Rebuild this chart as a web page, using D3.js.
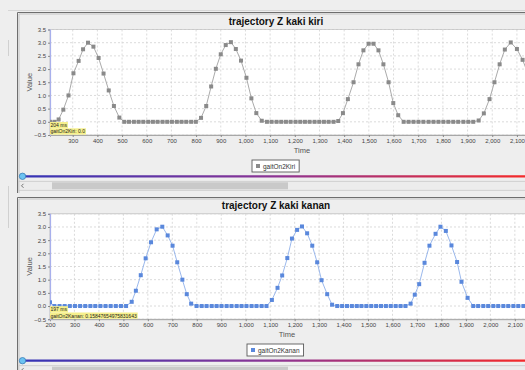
<!DOCTYPE html>
<html><head><meta charset="utf-8">
<script src="https://cdn.jsdelivr.net/npm/d3@7/dist/d3.min.js"></script>
<style>
html,body{margin:0;padding:0;background:#eeeeee;overflow:hidden;}
svg{display:block;font-family:"Liberation Sans",Arial,sans-serif;}
</style></head><body>
<svg id="c" width="525" height="370"></svg>
<script>
// ---- data ----
const topTitle = "trajectory Z kaki kiri";
const topSeries = "gaitOn2Kiri";
const topTime = [208,226,243,262,283,303,324,342,362,384,405,425,446,467,489,509,
  528,548,567,586,606,625,644,664,683,702,722,741,760,780,799,
  820,841,861,880,900,920,941,961,982,1004,1024,1044,1066,
  1087,1106,1126,1145,1164,1183,1203,1222,1241,1260,1280,1299,1318,1337,1357,1376,
  1395,1415,1438,1458,1478,1499,1519,1539,1559,1580,1599,1619,
  1641,1661,1681,1701,1721,1742,1762,1782,1802,1822,1842,1862,1883,1903,1923,
  1945,1966,1989,2009,2030,2051,2075,2100,2123,2146];
const topZ = [0,0,0.09,0.46,1.0,1.84,2.31,2.75,3.0,2.85,2.42,1.83,1.19,0.6,0.16,0,
  0,0,0,0,0,0,0,0,0,0,0,0,0,0,0,
  0.15,0.6,1.34,2.01,2.56,2.91,3.02,2.76,2.32,1.67,0.89,0.33,0.04,
  0,0,0,0,0,0,0,0,0,0,0,0,0,0,0,0.03,
  0.33,0.86,1.5,2.18,2.71,2.96,2.96,2.71,2.18,1.5,0.71,0.25,
  0,0,0,0,0,0,0,0,0,0,0,0,0,0,0,
  0.05,0.32,0.86,1.5,2.18,2.74,3.01,2.76,2.35,1.8];
const topXTicks = [300,400,500,600,700,800,900,1000,1100,1200,1300,1400,1500,1600,1700,1800,1900,2000,2100];
const topTip = ["204 ms", "gaitOn2Kiri: 0.0"];

const botTitle = "trajectory Z kaki kanan";
const botSeries = "gaitOn2Kanan";
const botTime = [200,218,239,260,281,302,323,344,365,385,406,427,448,469,490,511,
  534,551,571,591,613,636,659,681,701,720,741,759,777,799,
  820,840,861,881,901,922,942,963,983,1003,1024,1044,1065,1085,
  1107,1130,1149,1170,1189,1210,1230,1251,1272,1292,1310,1333,1353,
  1374,1394,1414,1434,1454,1473,1493,1513,1533,1553,1573,1593,1613,1633,1653,
  1674,1691,1709,1731,1751,1776,1796,1818,1841,1864,1882,1907,
  1930,1950,1971,1991,2012,2032,2053,2073,2094,2114,2135,2155];
const botZ = [0.14,0,0,0,0,0,0,0,0,0,0,0,0,0,0,0,
  0.16,0.58,1.17,1.81,2.42,2.91,3.01,2.68,2.29,1.66,1.0,0.45,0.09,0,
  0,0,0,0,0,0,0,0,0,0,0,0,0,0,
  0.23,0.69,1.16,1.82,2.56,2.89,3.02,2.76,2.29,1.66,0.98,0.45,0.05,
  0,0,0,0,0,0,0,0,0,0,0,0,0,0,0,
  0.09,0.43,0.83,1.64,2.29,2.74,3.01,2.85,2.3,1.67,0.92,0.31,
  0,0,0,0,0,0,0,0,0,0,0,0];
const botXTicks = [200,300,400,500,600,700,800,900,1000,1100,1200,1300,1400,1500,1600,1700,1800,1900,2000,2100];
const botTip = ["197 ms", "gaitOn2Kanan: 0.15847654975831643"];

const yTicks = [-0.5,0,0.5,1.0,1.5,2.0,2.5,3.0,3.5];
const yLabel = "Value";
const xLabel = "Time";

// ---- drawing ----
const svg = d3.select("#c");
const defs = svg.append("defs");
const grad = defs.append("linearGradient").attr("id","sl").attr("gradientUnits","userSpaceOnUse")
  .attr("x1",22).attr("x2",525).attr("y1",0).attr("y2",0);
grad.append("stop").attr("offset","0").attr("stop-color","#3434b6");
grad.append("stop").attr("offset","0.5").attr("stop-color","#8c3494");
grad.append("stop").attr("offset","1").attr("stop-color","#f42a2a");

// left splitter hints
svg.append("line").attr("x1",8.5).attr("x2",8.5).attr("y1",40).attr("y2",56).attr("stroke","#d0d0d0");
svg.append("line").attr("x1",8.5).attr("x2",8.5).attr("y1",186).attr("y2",228).attr("stroke","#d0d0d0");
svg.append("line").attr("x1",8).attr("x2",525).attr("y1",10.5).attr("y2",10.5).attr("stroke","#d6d6d6");

function drawChart(cfg){
  const g = svg.append("g");
  // panel border
  g.append("path").attr("d",`M17.5,${cfg.panelBottom} V${cfg.panelTop} H525`)
    .attr("fill","none").attr("stroke","#6e6e6e").attr("stroke-width",1);
  g.append("path").attr("d",`M19,${cfg.panelBottom} V${cfg.panelTop+1.5} H525`)
    .attr("fill","none").attr("stroke","#c4c4c4").attr("stroke-width",1);

  const x = d3.scaleLinear().domain(cfg.xDomain).range([cfg.left, cfg.right]);
  const y = d3.scaleLinear().domain([-0.5,3.5]).range([cfg.bottom, cfg.top]);

  // title
  g.append("text").attr("x",276).attr("y",cfg.titleY).attr("text-anchor","middle")
    .attr("font-size",10).attr("font-weight","bold").attr("fill","#111").text(cfg.title);

  // plot background
  g.append("rect").attr("x",cfg.left).attr("y",cfg.top).attr("width",cfg.right-cfg.left).attr("height",cfg.bottom-cfg.top)
    .attr("fill","#ffffff").attr("stroke","#bdbdbd").attr("stroke-width",0.8);

  // grid
  g.append("g").selectAll("line").data(cfg.xTicks).join("line")
    .attr("x1",d=>x(d)).attr("x2",d=>x(d)).attr("y1",cfg.top).attr("y2",cfg.bottom)
    .attr("stroke","#d2d2d2").attr("stroke-width",0.8).attr("stroke-dasharray","2,2");
  g.append("g").selectAll("line").data(yTicks).join("line")
    .attr("x1",cfg.left).attr("x2",cfg.right).attr("y1",d=>y(d)).attr("y2",d=>y(d))
    .attr("stroke","#d2d2d2").attr("stroke-width",0.8).attr("stroke-dasharray","2,2");

  // axes
  const ax = g.append("g").attr("transform",`translate(0,${cfg.bottom})`)
    .call(d3.axisBottom(x).tickValues(cfg.xTicks).tickFormat(d3.format(",")).tickSize(2).tickPadding(2));
  ax.select(".domain").attr("stroke","#9a9a9a").attr("stroke-width",0.8);
  ax.selectAll(".tick line").attr("stroke","#888");
  ax.selectAll("text").attr("font-size",6).attr("fill","#444").attr("font-family","Liberation Sans, Arial, sans-serif");

  const ay = g.append("g").attr("transform",`translate(${cfg.left},0)`)
    .call(d3.axisLeft(y).tickValues(yTicks).tickFormat(d3.format(".1f")).tickSize(2).tickPadding(2));
  ay.select(".domain").attr("stroke","#a8b0ec").attr("stroke-width",1.2);
  ay.selectAll(".tick line").attr("stroke","#888");
  ay.selectAll("text").attr("font-size",6).attr("fill","#444").attr("font-family","Liberation Sans, Arial, sans-serif");

  // axis labels
  g.append("text").attr("transform",`translate(32,${(cfg.top+cfg.bottom)/2}) rotate(-90)`)
    .attr("text-anchor","middle").attr("font-size",7.5).attr("fill","#555").text(yLabel);
  g.append("text").attr("x",cfg.timeX).attr("y",cfg.bottom+17.5).attr("text-anchor","middle")
    .attr("font-size",7.5).attr("fill","#555").text(xLabel);

  // series
  const clipId = "clip"+cfg.id;
  defs.append("clipPath").attr("id",clipId).append("rect")
    .attr("x",cfg.left).attr("y",cfg.top).attr("width",cfg.right-cfg.left).attr("height",cfg.bottom-cfg.top);
  const pts = cfg.time.map((t,i)=>[t,cfg.z[i]]);
  const s = g.append("g").attr("clip-path",`url(#${clipId})`);
  s.append("path").datum(pts).attr("fill","none").attr("stroke",cfg.lineColor).attr("stroke-width",0.9)
    .attr("d",d3.line().x(d=>x(d[0])).y(d=>y(d[1])));
  s.selectAll("rect").data(pts).join("rect")
    .attr("x",d=>x(d[0])-2).attr("y",d=>y(d[1])-2).attr("width",4).attr("height",4)
    .attr("fill",cfg.markColor);

  // tooltip
  const tipG = g.append("g");
  cfg.tip.forEach((line,i)=>{
    const ty = cfg.bottom - 13 + i*6.3;
    const r = tipG.append("rect").attr("y",ty).attr("height",6.3).attr("x",cfg.left).attr("fill","#f6f08c");
    const t = tipG.append("text").attr("x",cfg.left+0.5).attr("y",ty+5).attr("font-size",5).attr("fill","#222").text(line);
    r.attr("width",t.node().getComputedTextLength()+1.5);
  });

  // legend
  const lg = g.append("g");
  const lt = lg.append("text").attr("x",cfg.legX+11).attr("y",cfg.legY+8.5).attr("font-size",6.5).attr("fill","#333").text(cfg.series);
  const lw = lt.node().getComputedTextLength()+15;
  lg.insert("rect","text").attr("x",cfg.legX).attr("y",cfg.legY).attr("width",lw).attr("height",12)
    .attr("fill","#ffffff").attr("stroke","#5a5a5a").attr("stroke-width",0.9);
  lg.append("rect").attr("x",cfg.legX+4).attr("y",cfg.legY+4).attr("width",4).attr("height",4).attr("fill",cfg.markColor);

  // slider
  g.append("line").attr("x1",22).attr("x2",525).attr("y1",cfg.sliderY).attr("y2",cfg.sliderY)
    .attr("stroke","url(#sl)").attr("stroke-width",2.2);
  g.append("circle").attr("cx",22.5).attr("cy",cfg.sliderY).attr("r",3.2)
    .attr("fill","#6cc3f2").attr("stroke","#3b7fb8").attr("stroke-width",0.8);

  // scrollbar
  g.append("rect").attr("x",19).attr("y",cfg.sliderY+5).attr("width",510).attr("height",9)
    .attr("fill","#ececec").attr("stroke","#c9c9c9").attr("stroke-width",0.8);
  g.append("rect").attr("x",52).attr("y",cfg.sliderY+6).attr("width",236).attr("height",7)
    .attr("fill","#c9c9c9");
  const ayc = cfg.sliderY+9.5;
  g.append("path").attr("d",`M23.5,${ayc-2} L21.5,${ayc} L23.5,${ayc+2}`)
    .attr("fill","none").attr("stroke","#555").attr("stroke-width",0.8);
}

drawChart({id:"t", title:topTitle, series:topSeries, time:topTime, z:topZ, xTicks:topXTicks, tip:topTip,
  xDomain:[208,2153], left:50, right:530, top:29.5, bottom:135,
  panelTop:12.5, panelBottom:193, titleY:24.5, timeX:302,
  legX:252, legY:160, sliderY:176.3,
  lineColor:"#a0a0a0", markColor:"#8a8a8a"});

drawChart({id:"b", title:botTitle, series:botSeries, time:botTime, z:botZ, xTicks:botXTicks, tip:botTip,
  xDomain:[200,2162], left:50, right:530, top:213.8, bottom:319.2,
  panelTop:197.5, panelBottom:372, titleY:209, timeX:287,
  legX:247, legY:344, sliderY:360.7,
  lineColor:"#8fb0ea", markColor:"#5a88dc"});
</script>
</body></html>
